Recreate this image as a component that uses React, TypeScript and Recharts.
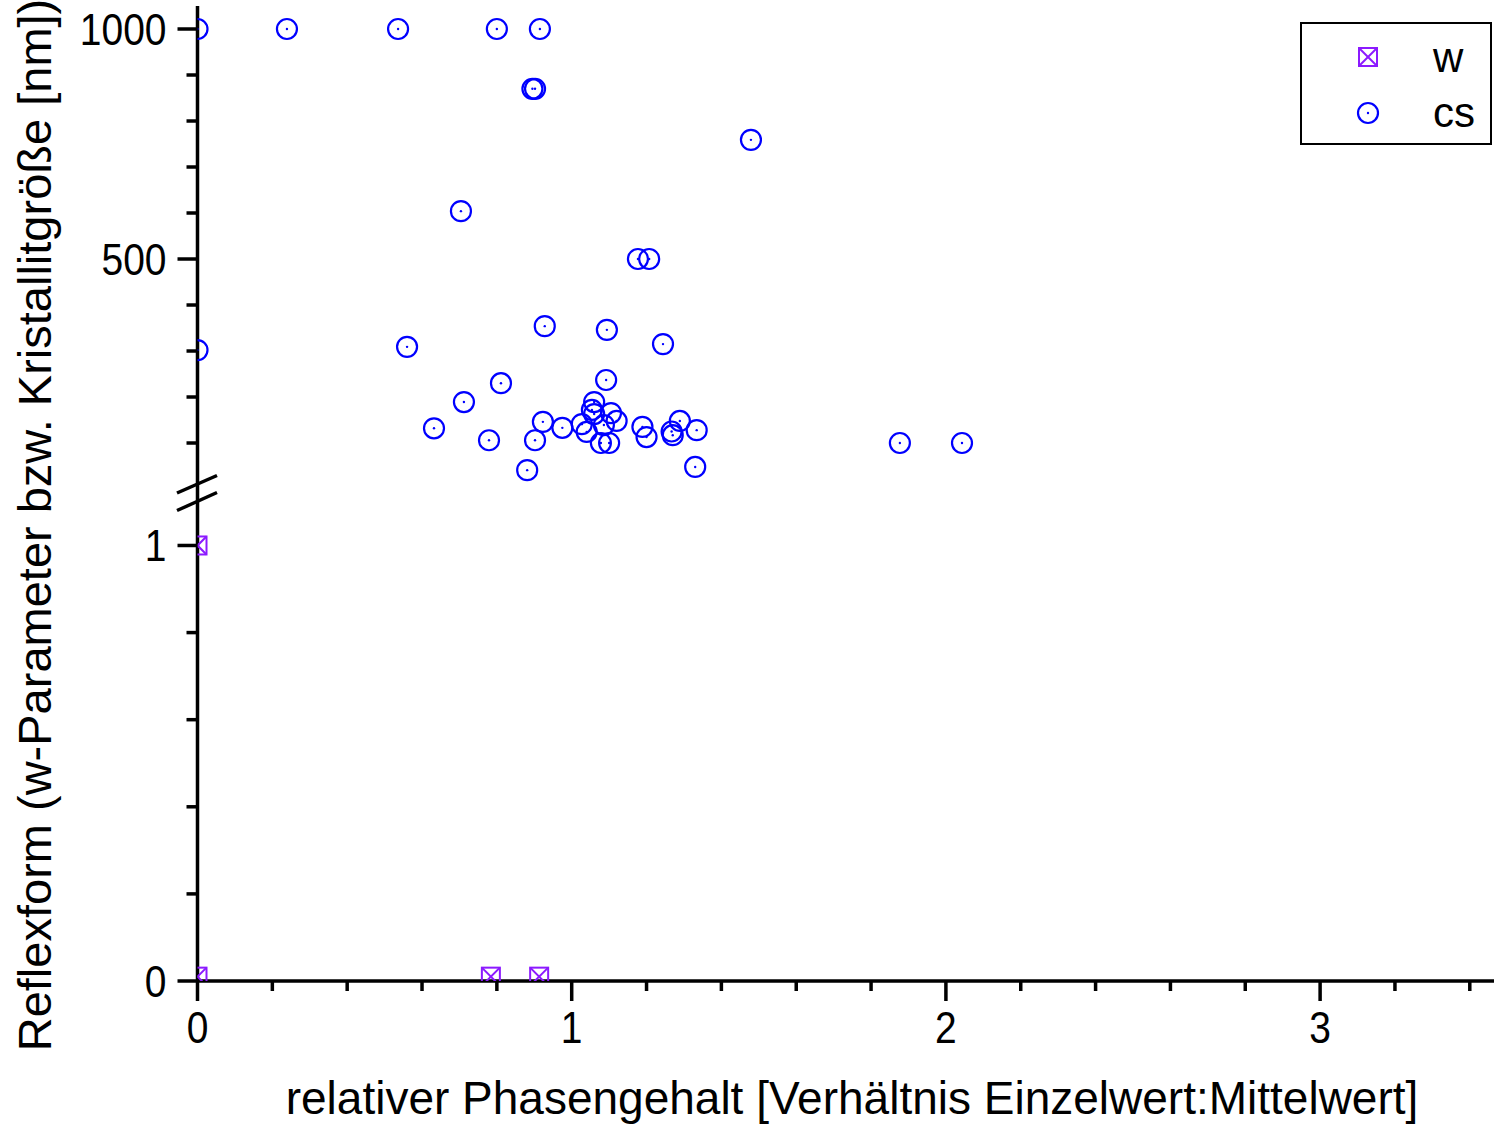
import React from "react";
import { ScatterChart, Scatter, XAxis, YAxis } from "recharts";

// cs: Kristallitgröße [nm] (upper segment of the broken axis)
const csX = [
  0, 0.239, 0.536, 0.8, 0.915, 0.895, 0.902, 1.479, 0.704, 1.177, 1.207, 0, 0.56,
  0.928, 1.094, 1.244, 0.811, 1.092, 0.712, 0.632, 0.779, 0.881, 0.902, 0.923,
  0.975, 1.027, 1.04, 1.054, 1.06, 1.06, 1.086, 1.078, 1.1, 1.105, 1.12, 1.189,
  1.2, 1.267, 1.27, 1.289, 1.334, 1.33, 1.877, 2.043,
];
const csY = [
  1000, 1000, 1000, 1000, 1000, 870, 870, 759, 604, 500, 500, 302, 309,
  354, 346, 315, 230, 237, 189, 132, 106, 41, 106, 146,
  133, 141, 124, 172, 189, 163, 139, 100, 100, 165, 148, 135,
  113, 125, 117, 148, 128, 48, 100, 100,
];

// w: Reflexform (lower segment)
const wX = [0, 0, 0.784, 0.913];
const wY = [1, 0.01, 0.01, 0.01];

const xTicks = [0, 0.2, 0.4, 0.6, 0.8, 1, 1.2, 1.4, 1.6, 1.8, 2, 2.2, 2.4, 2.6, 2.8, 3, 3.2, 3.4];
const upperTicks = [100, 200, 300, 400, 500, 600, 700, 800, 900, 1000];
const upperMajor = [500, 1000];
const lowerTicks = [0, 0.2, 0.4, 0.6, 0.8, 1];
const lowerMajor = [0, 1];

const xTitle = "relativer Phasengehalt [Verhältnis Einzelwert:Mittelwert]";
const yTitle = "Reflexform (w-Parameter bzw. Kristallitgröße [nm])";
const wName = "w";
const csName = "cs";

const csData = csX.map((x, i) => ({ x, y: csY[i] }));
const wData = wX.map((x, i) => ({ x, y: wY[i] }));

const W = 1494;
const H = 1129;
const X_MAX = 3.4647;
const BREAK_Y = 492;
const FONT = "'Liberation Sans', Arial, Helvetica, sans-serif";
const CS_COLOR = "#0000ff";
const W_COLOR = "#8c1aff";
const AXIS = { stroke: "#000", strokeWidth: 3.5 };
const TICK_FONT = 39;
const TICK_STRETCH = 1.12;

const CsShape = (p: any) => (
  <g>
    <circle cx={p.cx} cy={p.cy} r={10} fill="none" stroke={CS_COLOR} strokeWidth={2.2} />
    <circle cx={p.cx} cy={p.cy} r={1.2} fill={CS_COLOR} />
  </g>
);

const WShape = (p: any) => (
  <g fill="none" stroke={W_COLOR} strokeWidth={2}>
    <rect x={p.cx - 9} y={p.cy - 9} width={18} height={18} />
    <line x1={p.cx - 9} y1={p.cy - 9} x2={p.cx + 9} y2={p.cy + 9} />
    <line x1={p.cx + 9} y1={p.cy - 9} x2={p.cx - 9} y2={p.cy + 9} />
  </g>
);

// tick label, slightly stretched vertically like the original export
const TickText = ({ x, y, anchor, children }: any) => (
  <text
    transform={`translate(${x} ${y}) scale(1 ${TICK_STRETCH})`}
    textAnchor={anchor}
    fontSize={TICK_FONT}
    fontFamily={FONT}
    fill="#000"
  >
    {children}
  </text>
);

function yTick(majors: number[]) {
  return (p: any) => {
    const major = majors.includes(p.payload.value);
    return (
      <g>
        <line x1={p.x - (major ? 20 : 11)} x2={p.x} y1={p.y} y2={p.y} stroke="#000" strokeWidth={3.5} />
        {major && (
          <TickText x={p.x - 31} y={p.y + 15.5} anchor="end">
            {p.payload.value}
          </TickText>
        )}
      </g>
    );
  };
}

const XTick = (p: any) => {
  const v = p.payload.value;
  const major = Math.abs(v - Math.round(v)) < 1e-6;
  return (
    <g>
      <line x1={p.x} x2={p.x} y1={p.y} y2={p.y + (major ? 20 : 10)} stroke="#000" strokeWidth={3.5} />
      {major && (
        <TickText x={p.x} y={p.y + 62} anchor="middle">
          {Math.round(v)}
        </TickText>
      )}
    </g>
  );
};

export default function App() {
  return (
    <div style={{ position: "relative", width: W, height: H, background: "#fff", fontFamily: FONT }}>
      <style>{"body{margin:0}"}</style>

      {/* lower segment: w parameter, carries the x axis */}
      <div style={{ position: "absolute", left: 0, top: 0 }}>
        <ScatterChart width={W} height={H} margin={{ top: BREAK_Y, right: 0, bottom: 0, left: 0 }}>
          <XAxis
            type="number"
            dataKey="x"
            domain={[0, X_MAX]}
            allowDataOverflow
            ticks={xTicks}
            interval={0}
            height={148}
            tickSize={0}
            tickMargin={0}
            tickLine={false}
            axisLine={AXIS}
            tick={XTick}
          />
          <YAxis
            type="number"
            dataKey="y"
            domain={[0, 1.1228]}
            allowDataOverflow
            ticks={lowerTicks}
            interval={0}
            width={197.5}
            tickSize={0}
            tickMargin={0}
            tickLine={false}
            axisLine={AXIS}
            tick={yTick(lowerMajor)}
          />
          <Scatter name={wName} data={wData} shape={WShape} isAnimationActive={false} />
        </ScatterChart>
      </div>

      {/* upper segment: crystallite size */}
      <div style={{ position: "absolute", left: 0, top: 0 }}>
        <ScatterChart width={W} height={BREAK_Y} margin={{ top: 6, right: 0, bottom: 0, left: 0 }}>
          <XAxis
            type="number"
            dataKey="x"
            orientation="top"
            domain={[0, X_MAX]}
            allowDataOverflow
            height={0}
            tick={false}
            tickLine={false}
            axisLine={AXIS}
          />
          <YAxis
            type="number"
            dataKey="y"
            domain={[-6.5, 1050]}
            allowDataOverflow
            ticks={upperTicks}
            interval={0}
            width={197.5}
            tickSize={0}
            tickMargin={0}
            tickLine={false}
            axisLine={AXIS}
            tick={yTick(upperMajor)}
          />
          <Scatter name={csName} data={csData} shape={CsShape} isAnimationActive={false} />
        </ScatterChart>
      </div>

      {/* titles, axis break and legend */}
      <svg width={W} height={H} style={{ position: "absolute", left: 0, top: 0, pointerEvents: "none" }}>
        <line x1={177} y1={493} x2={217} y2={475.5} stroke="#000" strokeWidth={3.5} />
        <line x1={177} y1={510.5} x2={217} y2={492.5} stroke="#000" strokeWidth={3.5} />

        <text
          x={51}
          y={525}
          transform="rotate(-90 51 525)"
          textAnchor="middle"
          fontSize={47}
          fontFamily={FONT}
          fill="#000"
        >
          {yTitle}
        </text>
        <text x={852} y={1114} textAnchor="middle" fontSize={46} fontFamily={FONT} fill="#000">
          {xTitle}
        </text>

        <rect x={1301} y={23} width={190} height={121} fill="#fff" stroke="#000" strokeWidth={2} />
        <WShape cx={1368} cy={57} />
        <CsShape cx={1368} cy={113} />
        <text x={1433} y={72} fontSize={42} fontFamily={FONT} fill="#000">{wName}</text>
        <text x={1433} y={127} fontSize={42} fontFamily={FONT} fill="#000">{csName}</text>
      </svg>
    </div>
  );
}
